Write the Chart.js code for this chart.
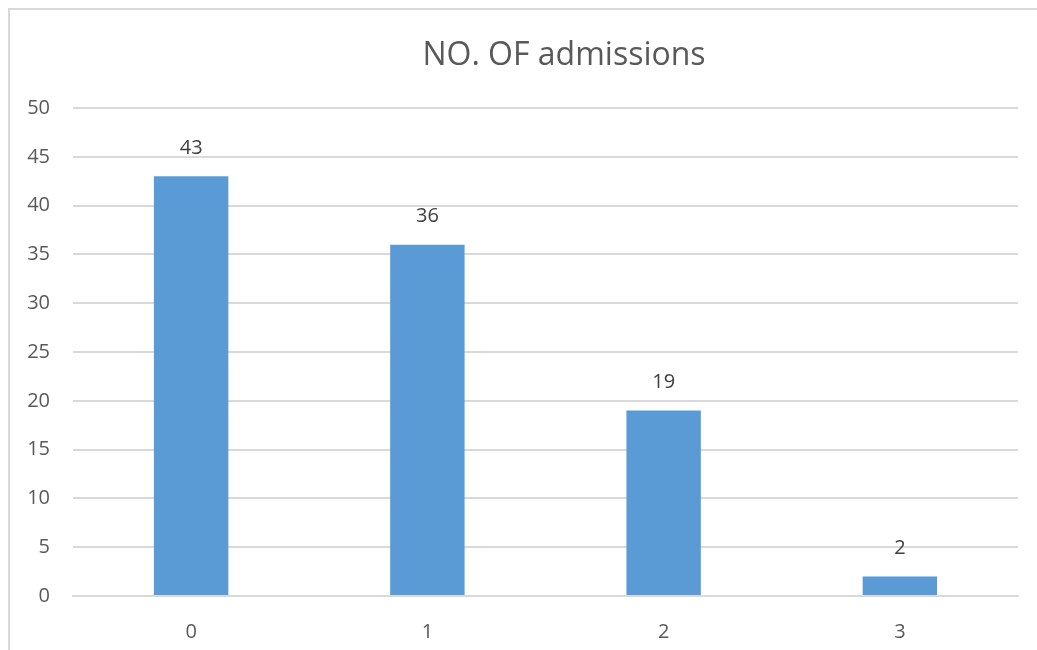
<!DOCTYPE html>
<html>
<head>
<meta charset="utf-8">
<script src="https://cdn.jsdelivr.net/npm/chart.js@4"></script>
<style>
  html, body { margin: 0; padding: 0; background: #fff; overflow: hidden; }
  #wrap { position: relative; width: 1037px; height: 650px; }
  #frame { position: absolute; left: 8px; top: 8px; width: 1100px; height: 700px; border: 2px solid #d9d9d9; }
  canvas { position: absolute; left: 0; top: 0; }
</style>
</head>
<body>
<div id="wrap">
  <div id="frame"></div>
  <canvas id="chart" width="1037" height="650"></canvas>
</div>
<script>
  const categories = ['0', '1', '2', '3'];
  const admissions = [43, 36, 19, 2];
  const yTicks = [0, 5, 10, 15, 20, 25, 30, 35, 40, 45, 50];
  const chartTitle = 'NO. OF admissions';

  const FONT = "'Open Sans', 'Noto Sans', sans-serif";
  const TEXT = '#595959';

  // value labels above each bar, and the title (sits right of centre like the original)
  const extras = {
    id: 'extras',
    afterDatasetsDraw(chart) {
      const ctx = chart.ctx;
      const meta = chart.getDatasetMeta(0);
      ctx.save();
      ctx.font = '20px ' + FONT;
      ctx.fillStyle = '#404040';
      ctx.textAlign = 'center';
      ctx.textBaseline = 'middle';
      meta.data.forEach((bar, i) => {
        ctx.fillText(String(admissions[i]), bar.x, bar.y - 28);
      });
      ctx.font = '32px ' + FONT;
      ctx.fillStyle = TEXT;
      ctx.fillText(chartTitle, 564, 56);
      ctx.restore();
    },
  };

  new Chart(document.getElementById('chart'), {
    type: 'bar',
    data: {
      labels: categories,
      datasets: [{
        data: admissions,
        backgroundColor: '#5b9bd5',
        categoryPercentage: 1,
        barPercentage: 0.315,
      }],
    },
    options: {
      responsive: false,
      animation: false,
      layout: { padding: { left: 0, right: 19, top: 108, bottom: 0 } },
      plugins: {
        legend: { display: false },
        tooltip: { enabled: false },
        title: { display: false },
      },
      scales: {
        x: {
          grid: { display: false, drawTicks: false },
          border: { color: '#d9d9d9', width: 2 },
          ticks: { color: TEXT, font: { family: FONT, size: 20 }, padding: 24 },
          afterFit(s) { s.height = 54; },
        },
        y: {
          min: 0,
          max: 50,
          afterBuildTicks(s) { s.ticks = yTicks.map(v => ({ value: v })); },
          grid: { color: '#d9d9d9', lineWidth: 2, drawTicks: false },
          border: { display: false },
          ticks: { color: TEXT, font: { family: FONT, size: 20 }, padding: 23 },
          afterFit(s) { s.width = 73; },
        },
      },
    },
    plugins: [extras],
  });
</script>
</body>
</html>
